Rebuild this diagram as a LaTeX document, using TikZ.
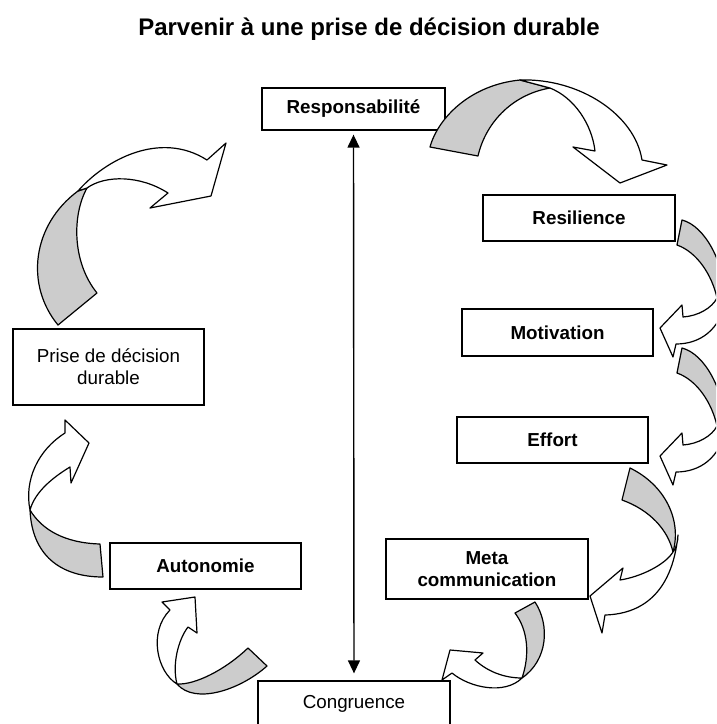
\documentclass[tikz,border=0pt]{standalone}
\usepackage{fontspec}
\setmainfont{Liberation Sans}
\usetikzlibrary{arrows.meta}
\begin{document}
\begin{tikzpicture}[x=1pt,y=-1pt,
  box/.style={draw, line width=1.3pt, fill=white, inner sep=0pt, align=center,
    font=\fontsize{18.8pt}{22pt}\selectfont\bfseries},
  plainbox/.style={box, font=\fontsize{18.8pt}{22pt}\selectfont},
  back/.style={draw, line width=1.2pt, fill=black!20, line join=round},
  front/.style={draw, line width=1.2pt, fill=white, line join=round},
  link/.style={line width=1.4pt, {Triangle[length=13pt,width=12pt]}-{Triangle[length=13pt,width=12pt]}}
]
\useasboundingbox (0,0) rectangle (716,724);
\clip (0,0) rectangle (716,724);
\fill[white] (0,0) rectangle (716,724);

\node[font=\fontsize{24pt}{28pt}\selectfont\bfseries, anchor=base] (title) at (369,35) {Parvenir à une prise de décision durable};

% boxes
\node[box, minimum width=183pt, minimum height=42pt] (resp) at (353.5,109) {Responsabilité};
\node[box, minimum width=192pt, minimum height=46pt] (resil) at (579,218) {Resilience};
\node[box, minimum width=191pt, minimum height=47pt] (motiv) at (557.5,332.5) {Motivation};
\node[box, minimum width=191pt, minimum height=46pt] (effort) at (552.5,440) {Effort};
\node[box, minimum width=202pt, minimum height=60pt] (meta) at (487,569) {Meta\\communication};
\node[box, minimum width=191pt, minimum height=46pt] (auto) at (205.5,566) {Autonomie};
\node[plainbox, minimum width=191pt, minimum height=76pt] (prise) at (108.5,367) {Prise de décision\\durable};
\node[plainbox, minimum width=192pt, minimum height=46pt] (cong) at (354,704) {Congruence};

% double arrow
\draw[link, shorten <=4pt, shorten >=7pt] (resp.south) -- (cong.north);

% ribbon 1: Responsabilite -> Resilience
\path[back] (430,147) .. controls (438,118) and (470,85) .. (520,80) -- (550,88)
  .. controls (510,95) and (485,125) .. (478,156) -- cycle;
\path[front] (520,80) .. controls (580,78) and (635,115) .. (642,160) -- (667,165) -- (620,183)
  -- (573,147) -- (595,151) .. controls (592,125) and (575,98) .. (550,88) -- cycle;

% ribbons 2 and 3: Resilience -> Motivation, Motivation -> Effort
\foreach \dy in {0,128}{
\begin{scope}[shift={(0,\dy)}]
\path[back] (682,220) .. controls (705,226) and (724,262) .. (726,300) -- (717,298)
  .. controls (712,275) and (697,252) .. (677,245) -- cycle;
\path[front] (717,298) .. controls (712,308) and (698,316) .. (683,317) -- (682,305) -- (660,328)
  -- (673,357) -- (676,344) .. controls (700,344) and (720,330) .. (726,300) -- cycle;
\end{scope}
}

% ribbon 4: Effort -> Meta communication
\path[back] (630,468) .. controls (665,485) and (682,520) .. (673,552)
  .. controls (668,530) and (650,510) .. (622,500) -- cycle;
\path[front] (673,552) .. controls (665,565) and (640,577) .. (620,580) -- (623,568) -- (590,596)
  -- (602,633) -- (605,615) .. controls (640,614) and (672,595) .. (678,535)
  .. controls (678,542) and (676,548) .. (673,552) -- cycle;

% ribbon 5: Meta communication -> Congruence
\path[back] (535,602) .. controls (550,625) and (548,660) .. (522,678)
  .. controls (530,655) and (528,630) .. (515,613) -- cycle;
\path[front] (522,678) .. controls (505,678) and (488,672) .. (475,660) -- (483,653) -- (450,650)
  -- (442,680) -- (452,673) .. controls (470,688) and (505,695) .. (522,678) -- cycle;

% ribbon 6: Congruence -> Autonomie
\path[back] (248,648) -- (267,666) .. controls (240,690) and (195,705) .. (177,684)
  .. controls (195,685) and (225,670) .. (248,648) -- cycle;
\path[front] (177,684) .. controls (157,672) and (148,632) .. (170,610) -- (162,602) -- (195,597)
  -- (197,633) -- (188,627) .. controls (178,640) and (172,665) .. (177,684) -- cycle;

% ribbon 7: Autonomie -> Prise de decision
\path[back] (100,544) -- (103,577) .. controls (60,577) and (32,555) .. (30,510)
  .. controls (42,530) and (65,543) .. (100,544) -- cycle;
\path[front] (30,510) .. controls (24,480) and (38,450) .. (65,433) -- (65,420) -- (89,443)
  -- (71,483) -- (70,467) .. controls (52,478) and (35,492) .. (30,510) -- cycle;

% ribbon 8: Prise de decision -> top
\path[back] (58,325) .. controls (25,285) and (32,225) .. (78,191) -- (87,188)
  .. controls (72,215) and (72,262) .. (97,293) -- cycle;
\path[front] (78,191) .. controls (105,160) and (160,130) .. (207,160) -- (226,143) -- (211,196)
  -- (150,208) -- (168,193) .. controls (140,175) and (105,175) .. (87,188) -- cycle;
\end{tikzpicture}
\end{document}
